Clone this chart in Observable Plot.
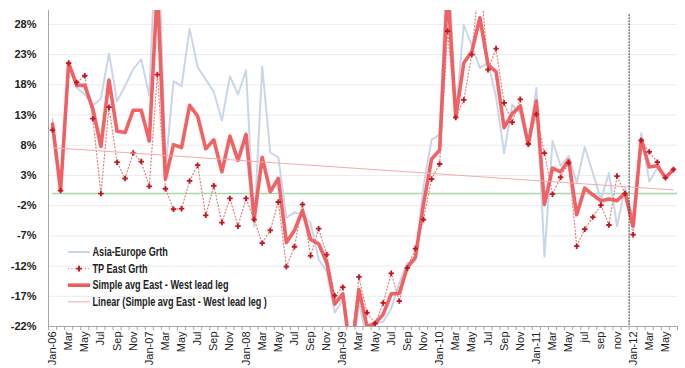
<!DOCTYPE html>
<html><head><meta charset="utf-8">
<script src="https://cdn.jsdelivr.net/npm/d3@7"></script>
<script src="https://cdn.jsdelivr.net/npm/@observablehq/plot@0.6"></script>
<style>
html,body{margin:0;padding:0;background:#fff;}
#chart{position:relative;width:685px;height:368px;overflow:hidden;}
#legend{position:absolute;left:0;top:0;pointer-events:none;}
</style></head><body>
<div id="chart"></div>
<script>
// x-axis labels (every second month, Jan-06 .. May-12)
const xLabels = ["Jan-06","Mar","May","Jul","Sep","Nov",
  "Jan-07","Mar","May","Jul","Sep","Nov",
  "Jan-08","Mar","May","Jul","Sep","Nov",
  "Jan-09","Mar","May","Jul","Sep","Nov",
  "Jan-10","Mar","May","Jul","Sep","Nov",
  "Jan-11","Mar","May","jul","sep","nov",
  "Jan-12","Mar","May"];
const yTicks = [-22,-17,-12,-7,-2,3,8,13,18,23,28];

// Series, monthly Jan-06 .. Jun-12 (values in %)
const asiaEurope = [12.4,0.6,21.6,17.5,16.4,14.6,15.7,23.2,15.3,17.8,20.6,22.2,
  16.2,48,4.0,18.6,17.8,27.3,20.9,18.9,16.8,12.1,19.4,16.4,
  20.4,-5.5,21.0,6.8,6.0,-4.0,-3.1,-3.5,-4.9,-10.9,-12.9,-19.7,
  -17.6,-28,-18.0,-24.3,-21.5,-21.2,-19.0,-14.8,-11.5,-11.2,1.2,8.9,
  9.8,41,12.8,27.9,24.5,20.8,21.7,16.0,6.7,14.7,13.3,7.8,
  17.5,-10.4,8.7,4.6,6.2,1.8,7.7,3.4,-1.0,3.4,-5.4,0.9,
  -4.3,10.0,2.0,4.2,2.9,3.7];
const tpEast = [10.5,0.5,21.6,18.4,19.5,12.4,0.0,14.3,5.2,2.5,6.7,5.3,
  1.2,19.7,0.8,-2.6,-2.5,2.1,4.7,-3.6,1.3,-4.8,-0.8,-5.4,
  -0.8,-4.3,-8.2,-6.1,-1.4,-12.1,-8.8,-1.8,-10.3,-5.8,-10.1,-16.9,
  -15.5,-26,-13.8,-19.7,-21.5,-18.1,-13.2,-17.8,-12.3,-9.1,-4.3,2.4,
  4.9,26.9,12.6,15.5,23.0,37,20.5,24.0,15.0,11.8,15.6,8.2,
  13.1,6.7,-0.1,2.7,5.1,-8.7,-5.9,-3.9,-1.9,-5.2,2.9,0.0,
  -6.8,8.8,6.9,5.2,2.6,4.0];
const simpleAvg = [11.5,0.5,21.6,17.9,17.9,14.0,7.8,18.8,10.3,10.1,13.8,13.8,
  8.7,34,2.4,8.1,7.6,14.6,12.8,7.4,8.9,3.6,9.5,5.5,
  9.8,-4.3,6.0,0.3,2.5,-8.1,-6.1,-2.8,-7.6,-8.3,-11.4,-18.3,
  -16.6,-27,-15.9,-22.0,-21.5,-20.0,-16.6,-16.5,-12.2,-10.5,-1.8,5.7,
  7.2,34,12.6,21.6,23.5,29.1,21.3,20.2,10.9,13.2,14.5,8.1,
  15.3,-1.8,4.2,3.6,5.5,-3.5,0.9,-0.2,-1.2,-0.9,-1.2,0.1,
  -5.4,9.0,4.4,4.6,2.6,4.0];
// Linear trend of the simple average (first and last month)
const trendMonths = [0, 77];
const trendValues = [7.6, 0.6];
const zeroLine = [0];
const dividerAt = [71.5];   // between Dec-11 and Jan-12
const dividerSpan = [29.6, -22];

const C_AE = "#c9d6e9", C_TP_LINE = "#e37b7b", C_TP_MARK = "#c3161f",
      C_AVG = "#f05a5c", C_TREND = "#f5a9a9", C_ZERO = "#a3d9ab";

const n = simpleAvg.length;
const idx = d3.range(n);
const labelIdx = xLabels.map((_, k) => 2 * k);
const boundaries = d3.range(n + 1).map(i => i - 0.5);

const font = "'Liberation Sans', Arial, sans-serif";

const plot = Plot.plot({
  width: 685, height: 368,
  marginLeft: 48, marginRight: 8, marginTop: 10, marginBottom: 42,
  x: {domain: [-0.5, n - 0.5], axis: null},
  y: {domain: [-22, 30.3], axis: null},
  style: {fontFamily: font, background: "#fff", overflow: "visible"},
  marks: [
    Plot.ruleY(yTicks, {stroke: "#ebebeb", strokeWidth: 1}),
    Plot.ruleY(zeroLine, {x1: 0, x2: n - 0.5, stroke: C_ZERO, strokeWidth: 1.5}),
    Plot.line(idx, {x: i => i, y: i => asiaEurope[i], stroke: C_AE, strokeWidth: 2, clip: true}),
    Plot.line(idx, {x: i => i, y: i => tpEast[i], stroke: C_TP_LINE, strokeWidth: 1.2, strokeDasharray: "1,2.4", clip: true}),
    Plot.line(idx, {x: i => i, y: i => simpleAvg[i], stroke: C_AVG, strokeWidth: 3.6, strokeOpacity: 0.95, clip: true}),
    Plot.dot(idx, {x: i => i, y: i => tpEast[i], symbol: "cross", r: 2.3, fill: C_TP_MARK, stroke: "none", clip: true}),
    Plot.line(trendMonths, {x: d => d, y: (d, k) => trendValues[k], stroke: C_TREND, strokeWidth: 1}),
    Plot.ruleX(dividerAt, {y1: dividerSpan[0], y2: dividerSpan[1], stroke: "#333", strokeWidth: 1, strokeDasharray: "2,1"}),
    Plot.ruleX([-0.5], {stroke: "#a6a6a6", strokeWidth: 1}),
    Plot.ruleY([-22], {stroke: "#a6a6a6", strokeWidth: 1}),
    Plot.axisX({ticks: boundaries, tickSize: 4, tickFormat: () => "", stroke: "#a6a6a6", label: null}),
    Plot.text(labelIdx, {x: d => d, y: () => -22, text: (d, k) => xLabels[k], rotate: -90, textAnchor: "end", dy: 5, fontSize: 11, fill: "#222"}),
    Plot.text(yTicks, {frameAnchor: "left", y: d => d, text: d => `${d}%`, textAnchor: "end", dx: -12, fontSize: 11, fontWeight: "bold", fill: "#222"})
  ]
});
document.getElementById("chart").appendChild(plot);

// legend (inside the plot area, lower left)
const legendItems = [
  {label: "Asia-Europe Grth", kind: "ae"},
  {label: "TP East Grth", kind: "tp"},
  {label: "Simple avg East - West lead leg", kind: "avg"},
  {label: "Linear (Simple avg East - West lead leg )", kind: "trend"}
];
const lg = d3.select("#chart").append("svg").attr("id", "legend")
  .attr("width", 685).attr("height", 368);
legendItems.forEach((it, k) => {
  const y = 252 + k * 16.6;
  const g = lg.append("g");
  const ln = g.append("line").attr("x1", 68).attr("x2", 90).attr("y1", y).attr("y2", y);
  if (it.kind === "ae") ln.attr("stroke", C_AE).attr("stroke-width", 2);
  if (it.kind === "tp") {
    ln.attr("stroke", C_TP_LINE).attr("stroke-width", 1.2).attr("stroke-dasharray", "1,2.4");
    g.append("path").attr("d", d3.symbol(d3.symbolCross, 18)()).attr("transform", `translate(79,${y})`).attr("fill", C_TP_MARK);
  }
  if (it.kind === "avg") ln.attr("stroke", C_AVG).attr("stroke-width", 3.6);
  if (it.kind === "trend") ln.attr("stroke", C_TREND).attr("stroke-width", 1);
  g.append("text").attr("transform", `translate(92.5,${y + 4.2}) scale(0.76,1)`)
    .attr("font-family", "'Liberation Sans', Arial, sans-serif")
    .attr("font-weight", "bold").attr("font-size", 12).attr("fill", "#222")
    .text(it.label);
});
</script>
</body></html>
